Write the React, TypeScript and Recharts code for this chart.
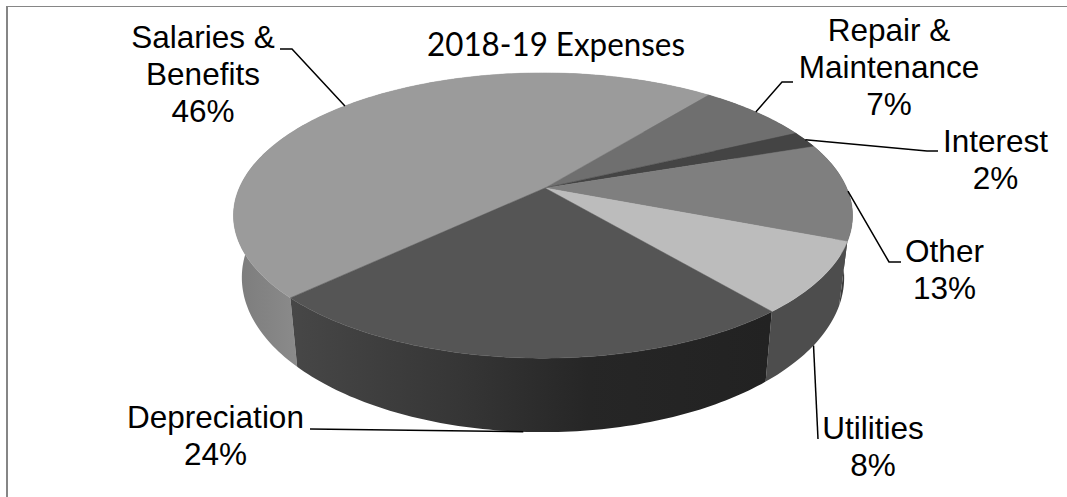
import React from 'react';
import { PieChart, Pie } from 'recharts';

const categories = ['Salaries &\nBenefits', 'Repair &\nMaintenance', 'Interest', 'Other', 'Utilities', 'Depreciation'];
// percentages as printed on the labels
const printedPercents = [46, 7, 2, 13, 8, 24];
// wedge sizes, Salaries and Other are not drawn at their printed share
const wedgeShares = [48, 7.1, 1.9, 11.1, 8, 23.9];
const topColors = ['#9b9b9b', '#6f6f6f', '#444444', '#7f7f7f', '#bcbcbc', '#555555'];
const wallColors = ['url(#salariesWall)', '#555555', '#333333', '#3c3c3c', '#4d4d4d', 'url(#depreciationWall)'];

// where each label sits: centre x, first baseline, then the leader's elbow points
const labelLayout = [
    { x: 203, y: 48, leader: [[292, 49], [280, 49]], drop: false },
    { x: 889, y: 41, leader: [[782, 82], [793, 82]], drop: false },
    { x: 995.5, y: 152, leader: [[927, 151], [938, 151]], drop: false },
    { x: 944.5, y: 262, leader: [[889, 262], [901, 262]], drop: false },
    { x: 873, y: 439, leader: [[818, 439]], drop: true },
    { x: 215.5, y: 428, leader: [[310, 429]], drop: true },
];

const data = categories.map((name, i) => ({ name, share: wedgeShares[i], percent: printedPercents[i] }));

// perspective of the tilted disc
const RIM_SHIFT = -2;
const TILT = 0.4521;
const DEPTH = 0.193;
const WALL = 59.7;
const BOTTOM_SCALE = 0.973;
const LINE_HEIGHT = 37;

function rimPoint(cx: number, cy: number, r: number, angle: number, drop = false) {
    const rad = (angle * Math.PI) / 180;
    const u = Math.cos(rad);
    const v = Math.sin(rad);
    const w = 1 + DEPTH * v;
    return {
        x: cx + RIM_SHIFT + ((r * u) / w) * (drop ? BOTTOM_SCALE : 1),
        y: cy - (r * TILT * v) / w + (drop ? WALL / w : 0),
    };
}

function arcPoints(cx: number, cy: number, r: number, from: number, to: number, drop = false) {
    const steps = Math.max(2, Math.ceil(Math.abs(from - to)));
    const pts = [];
    for (let i = 0; i <= steps; i++) {
        pts.push(rimPoint(cx, cy, r, from + ((to - from) * i) / steps, drop));
    }
    return pts;
}

function toPath(pts: { x: number; y: number }[]) {
    return pts.map((p, i) => `${i ? 'L' : 'M'}${p.x.toFixed(2)} ${p.y.toFixed(2)}`).join(' ') + ' Z';
}

function TopFace(props: any) {
    const { cx, cy, outerRadius, startAngle, endAngle, fill } = props;
    const pts = [{ x: cx, y: cy }, ...arcPoints(cx, cy, outerRadius, startAngle, endAngle)];
    return <path d={toPath(pts)} fill={fill} stroke={fill} strokeWidth={0.5} />;
}

function WallFace(props: any) {
    const { cx, cy, outerRadius, startAngle, endAngle, index } = props;
    const top = arcPoints(cx, cy, outerRadius, startAngle, endAngle);
    const bottom = arcPoints(cx, cy, outerRadius, startAngle, endAngle, true).reverse();
    return <path d={toPath([...top, ...bottom])} fill={wallColors[index]} />;
}

function SliceLabel(props: any) {
    const { cx, cy, outerRadius, midAngle, index } = props;
    const layout = labelLayout[index];
    const start = rimPoint(cx, cy, outerRadius, midAngle, layout.drop);
    const leader = [[start.x, start.y], ...layout.leader].map((p) => p.join(',')).join(' ');
    const lines = [...categories[index].split('\n'), `${printedPercents[index]}%`];
    return (
        <g>
            <polyline points={leader} fill="none" stroke="#000000" strokeWidth={1.5} />
            {lines.map((line, i) => (
                <text
                    key={line}
                    x={layout.x}
                    y={layout.y + i * LINE_HEIGHT}
                    textAnchor="middle"
                    fontFamily="'Liberation Sans', Arial, sans-serif"
                    fontSize={31.5}
                    fill="#000000"
                >
                    {line}
                </text>
            ))}
        </g>
    );
}

export default function App() {
    const pieProps = {
        data,
        dataKey: 'share',
        nameKey: 'name',
        cx: 545,
        cy: 188,
        innerRadius: 0,
        outerRadius: 303.7,
        startAngle: 223.9,
        endAngle: -136.1,
        stroke: 'none',
        isAnimationActive: false,
    };

    return (
        <div style={{ position: 'absolute', left: 0, top: 0, width: 1067, height: 497, background: '#ffffff', overflow: 'hidden' }}>
            <div style={{ position: 'absolute', left: 6, top: 6, right: 0, height: 1, background: '#868686' }} />
            <div style={{ position: 'absolute', left: 6, top: 6, bottom: 0, width: 2, background: '#868686' }} />
            <div style={{ position: 'absolute', left: 0, top: 0 }}>
                <PieChart width={1067} height={497} margin={{ top: 0, right: 0, bottom: 0, left: 0 }}>
                    <defs>
                        <linearGradient id="depreciationWall" gradientUnits="userSpaceOnUse" x1="290" y1="0" x2="770" y2="0">
                            <stop offset="0%" stopColor="#474747" />
                            <stop offset="35%" stopColor="#363636" />
                            <stop offset="62%" stopColor="#262626" />
                            <stop offset="100%" stopColor="#222222" />
                        </linearGradient>
                        <linearGradient id="salariesWall" gradientUnits="userSpaceOnUse" x1="235" y1="0" x2="295" y2="0">
                            <stop offset="0%" stopColor="#7c7c7c" />
                            <stop offset="100%" stopColor="#8a8a8a" />
                        </linearGradient>
                    </defs>
                    <Pie {...pieProps} shape={WallFace} label={false} labelLine={false} />
                    <Pie
                        {...pieProps}
                        data={data.map((d, i) => ({ ...d, fill: topColors[i] }))}
                        shape={TopFace}
                        label={SliceLabel}
                        labelLine={false}
                    />
                </PieChart>
            </div>
            <svg width={1067} height={497} style={{ position: 'absolute', left: 0, top: 0, pointerEvents: 'none' }}>
                <text x={427} y={56} fontFamily="Lato, sans-serif" fontSize={32} textLength={258} lengthAdjust="spacingAndGlyphs" fill="#000000">
                    2018-19 Expenses
                </text>
            </svg>
        </div>
    );
}
